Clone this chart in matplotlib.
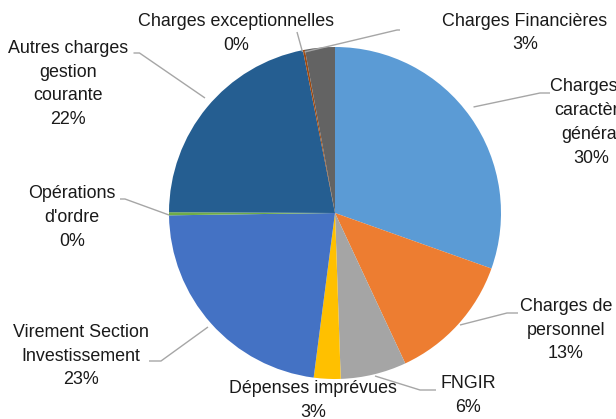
import matplotlib
matplotlib.use("Agg")
import matplotlib.pyplot as plt

# ---- data ----
categories = [
    "Charges à\ncaractère\ngénéral",
    "Charges de\npersonnel",
    "FNGIR",
    "Dépenses imprévues",
    "Virement Section\nInvestissement",
    "Opérations\nd'ordre",
    "Autres charges\ngestion\ncourante",
    "Charges exceptionnelles",
    "Charges Financières",
]
values = [30.4, 12.6, 6.4, 2.6, 22.7, 0.3, 21.8, 0.2, 2.9]
colors = ["#5B9BD5", "#ED7D31", "#A5A5A5", "#FFC000", "#4472C4",
          "#70AD47", "#255E91", "#9E480E", "#636363"]

# ---- layout (pixel coords, image y downwards) ----
W, H = 616, 419
center = (335, 213)
radius = 166
label_pos = [(591, 122.5), (566, 330), (468, 395.5), (313, 400.5),
             (81, 356), (72, 217.5), (68, 84), (236, 33.5), (525, 33)]
leaders = [
    [(473.5, 107), (540, 93), (550, 93)],
    [(460, 325), (507, 313), (518, 313)],
    [(375, 376), (420, 390), (436, 390)],
    None,
    [(208, 327), (161, 361), (149, 361)],
    [(169, 215), (125, 199), (120, 199)],
    [(205, 98), (139.5, 53), (133.5, 53)],
    [(302.5, 52), (297, 32)],
    [(304.5, 52), (397, 30), (400, 30)],
]

plt.rcParams['font.family'] = ['Liberation Sans Narrow', 'Liberation Sans', 'DejaVu Sans']

fig = plt.figure(figsize=(W / 100, H / 100), dpi=100)
ax = fig.add_axes([0, 0, 1, 1])

def Y(y):
    return H - y

ax.pie(values, colors=colors, startangle=90, counterclock=False,
       center=(center[0], Y(center[1])), radius=radius,
       wedgeprops=dict(linewidth=0), frame=False)

for pts in leaders:
    if pts is None:
        continue
    xs = [p[0] for p in pts]
    ys = [Y(p[1]) for p in pts]
    ax.plot(xs, ys, color="#A6A6A6", lw=1, zorder=3, solid_capstyle='butt')

for name, v, (x, y) in zip(categories, values, label_pos):
    ax.text(x, Y(y), f"{name}\n{round(v):.0f}%", ha='center', va='center',
            multialignment='center', fontsize=12.9, color="#1a1a1a",
            linespacing=1.52, zorder=4)

ax.set_xlim(0, W)
ax.set_ylim(0, H)
ax.set_aspect('equal')
ax.axis('off')

fig.savefig("out.png", dpi=100, facecolor="white")
